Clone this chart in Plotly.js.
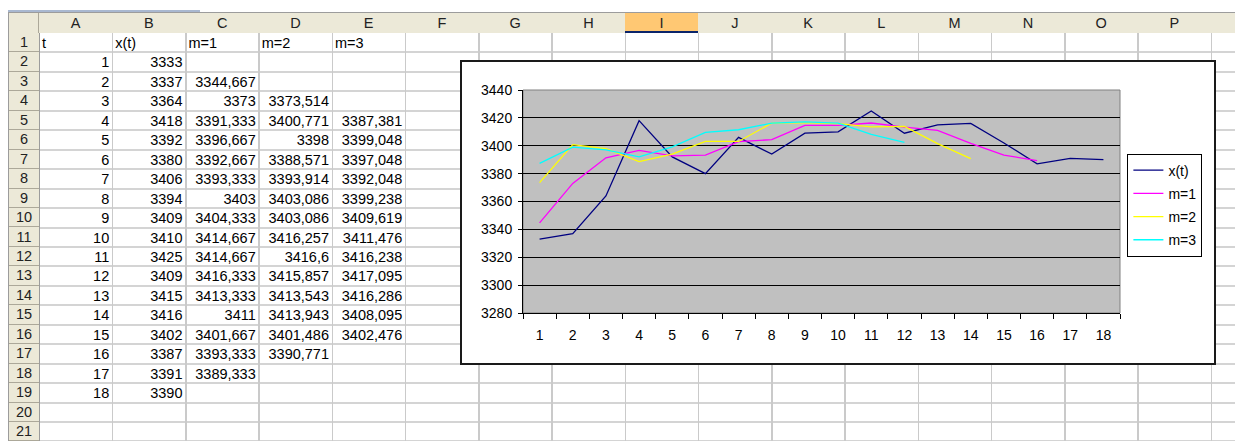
<!DOCTYPE html>
<html>
<head>
<meta charset="utf-8">
<script src="https://cdn.plot.ly/plotly-3.0.1.min.js"></script>
<style>
  html, body { margin: 0; padding: 0; background: #fff; }
  #sheet { position: relative; width: 1235px; height: 441px; overflow: hidden;
           font-family: "Liberation Sans", Arial, sans-serif; font-size: 14.5px; color: #000; }
  .abs { position: absolute; box-sizing: border-box; white-space: nowrap; }
  #chartBox { position: absolute; left: 460px; top: 60px; width: 756px; height: 305px;
              box-sizing: border-box; border: 2px solid #1a1a1a; background: #fff; }
  #chart { position: absolute; left: 0; top: 0; width: 752px; height: 301px; }
</style>
</head>
<body>
<div id="sheet"></div>
<script>
// Time index and observed series
const t  = [1, 2, 3, 4, 5, 6, 7, 8, 9, 10, 11, 12, 13, 14, 15, 16, 17, 18];
const xt = [3333, 3337, 3364, 3418, 3392, 3380, 3406, 3394, 3409, 3410, 3425, 3409, 3415, 3416, 3402, 3387, 3391, 3390];

// Smoothed series (moving averages of increasing order)
const m1 = [3344.667, 3373, 3391.333, 3396.667, 3392.667, 3393.333, 3403, 3404.333, 3414.667, 3414.667,
            3416.333, 3413.333, 3411, 3401.667, 3393.333, 3389.333];
const m2 = [3373.514, 3400.771, 3398, 3388.571, 3393.914, 3403.086, 3403.086, 3416.257, 3416.6, 3415.857,
            3413.543, 3413.943, 3401.486, 3390.771];
const m3 = [3387.381, 3399.048, 3397.048, 3392.048, 3399.238, 3409.619, 3411.476, 3416.238, 3417.095,
            3416.286, 3408.095, 3402.476];

// Column headers of the sheet and the labels in row 1
const colLetters = ['A','B','C','D','E','F','G','H','I','J','K','L','M','N','O','P',''];
const headerLabels = ['t', 'x(t)', 'm=1', 'm=2', 'm=3'];
const seriesNames = ['x(t)', 'm=1', 'm=2', 'm=3'];
const seriesColors = ['#000080', '#FF00FF', '#FFFF00', '#00FFFF'];

// ---------- worksheet grid ----------
const sheet = document.getElementById('sheet');
const LEFT = 8, RH_RIGHT = 39, COL_W = 73.25, HEAD_TOP = 13, HEAD_H = 20, ROW_TOP = 33, ROW_H = 19.45, N_ROWS = 21;
const HEAD_BG = '#ECE9D8', HEAD_LINE = '#ACA899', GRID = '#D4D4D4';

function box(css, text) {
  const d = document.createElement('div');
  d.className = 'abs';
  Object.assign(d.style, css);
  if (text !== undefined) d.textContent = text;
  sheet.appendChild(d);
  return d;
}
const px = v => v + 'px';

// thin bar above the headers
box({left: px(LEFT), top: '10px', width: '192px', height: '2px', background: '#A9B8D0'});

// column header band
box({left: px(LEFT), top: px(HEAD_TOP - 1), width: px(1235 - LEFT), height: px(HEAD_H + 1),
     background: HEAD_BG, borderTop: '1px solid #9C9C9C', borderBottom: '1px solid #9C9C9C'});

// cell gridlines (drawn first so header cells sit on top)
for (let r = 1; r <= N_ROWS; r++) {
  const y = ROW_TOP + r * ROW_H;
  box({left: px(RH_RIGHT), top: px(y - 1), width: px(1235 - RH_RIGHT), height: '2px', background: GRID});
}
for (let k = 1; k < colLetters.length; k++) {
  const x = RH_RIGHT + k * COL_W;
  box({left: px(x - 0.5), top: px(ROW_TOP), width: '1.5px', height: px(441 - ROW_TOP), background: '#CACACA'});
}

// column header cells
colLetters.forEach((c, k) => {
  const left = RH_RIGHT + k * COL_W;
  const sel = c === 'I';
  box({left: px(left), top: px(HEAD_TOP), width: px(COL_W + 1), height: px(HEAD_H),
       background: sel ? '#FFC873' : HEAD_BG,
       borderRight: sel ? '1px solid #0A246A' : '1px solid ' + HEAD_LINE,
       borderBottom: sel ? '2px solid #0A246A' : 'none',
       textAlign: 'center', lineHeight: px(HEAD_H), color: '#222'}, c);
});

// corner + row header column
box({left: px(LEFT), top: px(HEAD_TOP), width: px(RH_RIGHT - LEFT), height: px(HEAD_H),
     background: HEAD_BG, borderLeft: '1px solid #9C9C9C', borderRight: '1px solid ' + HEAD_LINE});
box({left: px(LEFT), top: px(ROW_TOP), width: px(RH_RIGHT - LEFT + 1), height: px(441 - ROW_TOP),
     background: HEAD_BG, borderLeft: '1px solid #9C9C9C', borderRight: '1px solid #9C9C9C'});
for (let r = 1; r <= N_ROWS; r++) {
  const top = ROW_TOP + (r - 1) * ROW_H;
  box({left: px(LEFT + 1), top: px(top), width: px(RH_RIGHT - LEFT - 1), height: px(ROW_H),
       borderBottom: '1px solid ' + HEAD_LINE, textAlign: 'center', lineHeight: px(ROW_H), color: '#222'}, String(r));
}

// cell values
const fmt = v => String(v).replace('.', ',');
function cell(col, row, text, align) {
  const left = RH_RIGHT + col * COL_W;
  const top = ROW_TOP + (row - 1) * ROW_H;
  box({left: px(left + 3), top: px(top), width: px(COL_W - 6), height: px(ROW_H),
       lineHeight: px(ROW_H + 1), textAlign: align}, text);
}
headerLabels.forEach((h, c) => cell(c, 1, h, 'left'));
t.forEach((v, i) => { cell(0, i + 2, fmt(v), 'right'); cell(1, i + 2, fmt(xt[i]), 'right'); });
m1.forEach((v, i) => cell(2, i + 3, fmt(v), 'right'));
m2.forEach((v, i) => cell(3, i + 4, fmt(v), 'right'));
m3.forEach((v, i) => cell(4, i + 5, fmt(v), 'right'));

// ---------- embedded chart ----------
const chartBox = document.createElement('div');
chartBox.id = 'chartBox';
const chartDiv = document.createElement('div');
chartDiv.id = 'chart';
chartBox.appendChild(chartDiv);
sheet.appendChild(chartBox);

const cats = t.map(String);
const allSeries = [xt, m1, m2, m3];
const traces = allSeries.map((vals, i) => ({
  type: 'scatter', mode: 'lines', name: seriesNames[i], legendgroup: seriesNames[i],
  x: cats.slice(0, vals.length), y: vals,
  line: {color: seriesColors[i], width: 1.3}
}));

const layout = {
  width: 752, height: 301,
  margin: {l: 61, r: 91, t: 28, b: 50, pad: 0},
  paper_bgcolor: '#ffffff', plot_bgcolor: '#C0C0C0',
  font: {family: '"Liberation Sans", Arial, sans-serif', size: 14, color: '#000'},
  showlegend: true,
  legend: {x: 1.138, xanchor: 'right', y: 0.715, yanchor: 'top', bgcolor: '#ffffff',
           bordercolor: '#000', borderwidth: 1, font: {size: 14}, tracegroupgap: 2,
           traceorder: 'grouped', itemwidth: 30},
  xaxis: {type: 'category', categoryorder: 'array', categoryarray: cats, range: [-0.5, cats.length - 0.5],
          tickson: 'boundaries', ticks: 'outside', ticklen: 5, tickcolor: '#000', showline: true,
          linecolor: '#000', linewidth: 1, showgrid: false, zeroline: false, ticklabelstandoff: 9},
  yaxis: {range: [3280, 3440], tick0: 3280, dtick: 20, ticks: 'outside', ticklen: 4, tickcolor: '#000',
          showline: true, linecolor: '#000', linewidth: 1, showgrid: true, gridcolor: '#000',
          gridwidth: 1, zeroline: false, ticklabelstandoff: 3},
  shapes: [{type: 'rect', xref: 'paper', yref: 'paper', x0: 0, x1: 1, y0: 0, y1: 1,
            line: {color: '#808080', width: 1}, layer: 'below'}]
};

Plotly.newPlot(chartDiv, traces, layout, {staticPlot: true, displayModeBar: false});
</script>
</body>
</html>
